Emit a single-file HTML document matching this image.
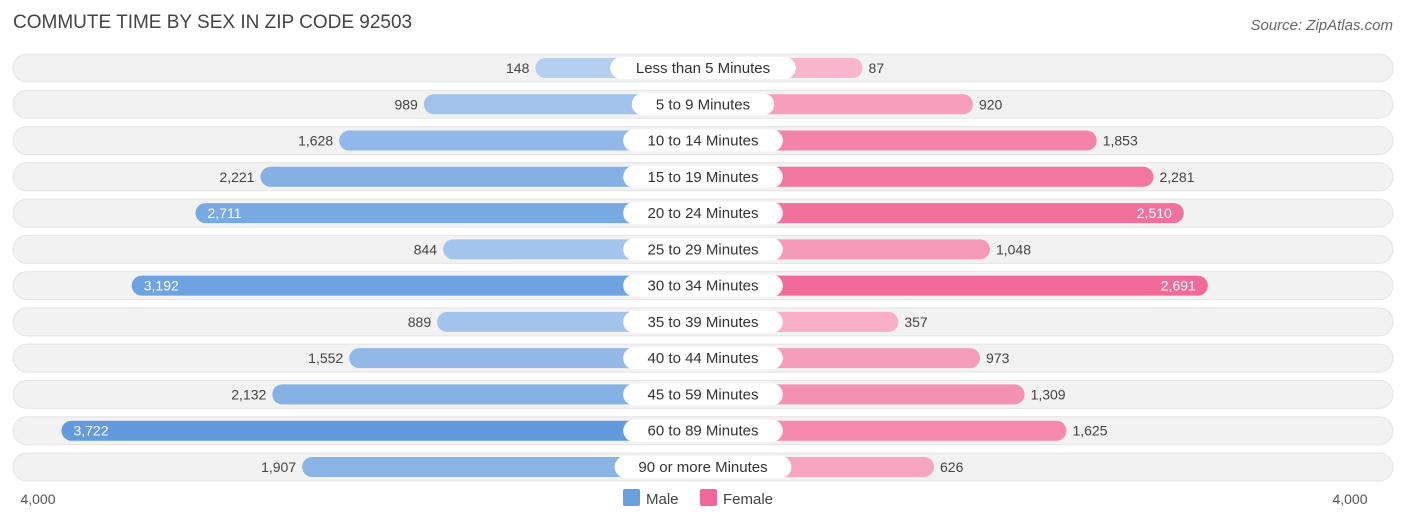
<!DOCTYPE html>
<html><head><meta charset="utf-8"><style>
body{margin:0;background:#fff;font-family:"Liberation Sans",sans-serif;}
svg text{font-family:"Liberation Sans",sans-serif;}
</style></head><body>
<svg id="chart" width="1406" height="523">
<text x="13" y="28" font-size="19" fill="#444">COMMUTE TIME BY SEX IN ZIP CODE 92503</text>
<text x="1393" y="30" font-size="15" fill="#666" text-anchor="end" font-style="italic">Source: ZipAtlas.com</text>
<g id="rows"></g>
<text x="38" y="504" font-size="14" fill="#555" text-anchor="middle">4,000</text>
<text x="1350" y="504" font-size="14" fill="#555" text-anchor="middle">4,000</text>
<rect x="623" y="489" width="17" height="17" rx="2" fill="#6a9fdc"/>
<text x="646" y="504" font-size="15" fill="#444">Male</text>
<rect x="700" y="489" width="17" height="17" rx="2" fill="#f2679a"/>
<text x="723" y="504" font-size="15" fill="#444">Female</text>
</svg>
<script>
const categories=["Less than 5 Minutes","5 to 9 Minutes","10 to 14 Minutes","15 to 19 Minutes","20 to 24 Minutes","25 to 29 Minutes","30 to 34 Minutes","35 to 39 Minutes","40 to 44 Minutes","45 to 59 Minutes","60 to 89 Minutes","90 or more Minutes"];
const male=[148,989,1628,2221,2711,844,3192,889,1552,2132,3722,1907];
const female=[87,920,1853,2281,2510,1048,2691,357,973,1309,1625,626];
const NS="http://www.w3.org/2000/svg";
const cx=703, base=148, scale=0.1326;
function len(v){return base+v*scale;}
function rowY(i){return 68+i*36.27;}
function mix(a,b,t){return "rgb("+a.map((x,k)=>Math.round(x+(b[k]-x)*t)).join(",")+")";}
function mk(tag,attrs,parent){const e=document.createElementNS(NS,tag);for(const k in attrs)e.setAttribute(k,attrs[k]);parent.appendChild(e);return e;}
const g=document.getElementById("rows");
const fmt=v=>v.toLocaleString("en-US");
categories.forEach((c,i)=>{
  const y=rowY(i);
  const bg=mk("rect",{x:13,y:y-14,width:1380,height:28,rx:14,fill:"#f2f2f2",stroke:"#e4e4e4"},g);
  
  
  const ml=len(male[i]), tm=male[i]/4000;
  const mb=mk("rect",{x:cx-ml,y:y-10,width:ml,height:20,rx:10,fill:mix([182,208,240],[92,150,220],tm)},g);
  
  
  const fl=len(female[i]), tf=female[i]/4000;
  const fb=mk("rect",{x:cx,y:y-10,width:fl,height:20,rx:10,fill:mix([249,184,206],[240,88,140],tf*1.2>1?1:tf*1.2)},g);
  
  
  const mIn=male[i]>2500, fIn=female[i]>2400;
  const mt=mk("text",{x:mIn?cx-ml+12:cx-ml-6,y:y+5,"font-size":14,fill:mIn?"#fff":"#444","text-anchor":mIn?"start":"end"},g);
  mt.textContent=fmt(male[i]);
  
  
  const ft=mk("text",{x:fIn?cx+fl-12:cx+fl+6,y:y+5,"font-size":14,fill:fIn?"#fff":"#444","text-anchor":fIn?"end":"start"},g);
  ft.textContent=fmt(female[i]);
  
  
  const w=c.length*8.6+22;
  const pill=mk("rect",{x:cx-w/2,y:y-11,width:w,height:22,rx:11,fill:"#fff"},g);
  
  
  const lt=mk("text",{x:cx,y:y+5,"font-size":15,fill:"#333","text-anchor":"middle"},g);
  lt.textContent=c;
  
  
});
</script>
</body></html>
